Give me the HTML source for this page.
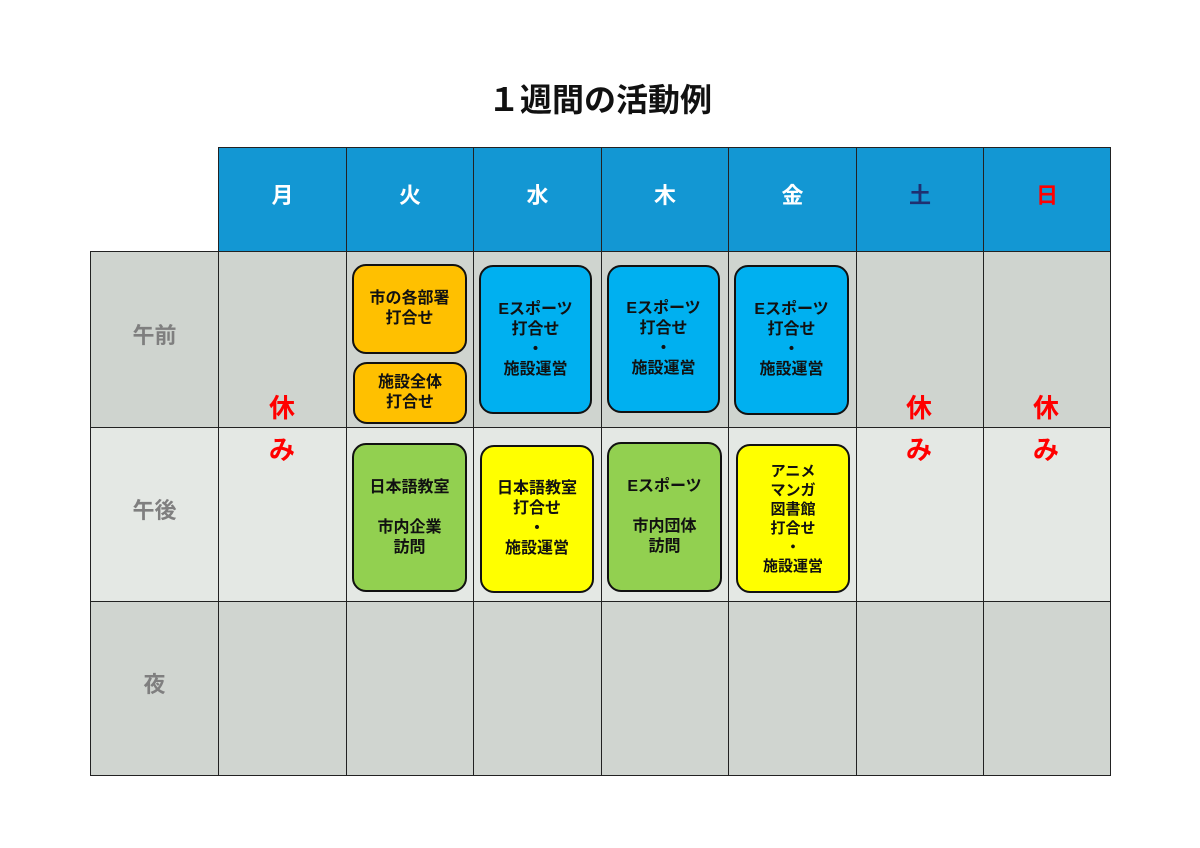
<!DOCTYPE html>
<html><head><meta charset="utf-8"><style>
body{margin:0;width:1200px;height:848px;background:#fff;position:relative;overflow:hidden;font-family:"Liberation Sans","Noto Sans CJK JP",sans-serif;font-weight:bold}
.a{position:absolute;box-sizing:border-box}
.c{display:flex;align-items:center;justify-content:center;text-align:center}
.hd{background:#1397d3;color:#fff;font-size:22px;border:1px solid #222;padding-bottom:12px}
.m{background:#cfd4cf;border:1px solid #222}
.p{background:#e4e8e4;border:1px solid #222}
.n{background:#d0d5d0;border:1px solid #222}
.lab{color:#7f7f7f;font-size:22px;padding-bottom:12px}
.b{border:2px solid #111;border-radius:14px;font-size:16px;line-height:20px;color:#111;flex-direction:column}
.r{color:#ff0000;font-size:26px;width:40px;text-align:center}
</style></head><body>
<div class="a c" style="left:0;width:1200px;top:78px;height:40px;font-size:32px;color:#111">１週間の活動例</div>

<div class="a c hd" style="left:218px;top:147px;width:129px;height:105px">月</div>
<div class="a c hd" style="left:346px;top:147px;width:128px;height:105px">火</div>
<div class="a c hd" style="left:473px;top:147px;width:129px;height:105px">水</div>
<div class="a c hd" style="left:601px;top:147px;width:128px;height:105px">木</div>
<div class="a c hd" style="left:728px;top:147px;width:129px;height:105px">金</div>
<div class="a c hd" style="left:856px;top:147px;width:128px;height:105px;color:#1f3070">土</div>
<div class="a c hd" style="left:983px;top:147px;width:128px;height:105px;color:#ff0000">日</div>

<div class="a m c lab" style="left:90px;top:251px;width:129px;height:177px">午前</div>
<div class="a p c lab" style="left:90px;top:427px;width:129px;height:175px">午後</div>
<div class="a n c lab" style="left:90px;top:601px;width:129px;height:175px">夜</div>

<div class="a m" style="left:218px;top:251px;width:129px;height:177px"></div>
<div class="a m" style="left:346px;top:251px;width:128px;height:177px"></div>
<div class="a m" style="left:473px;top:251px;width:129px;height:177px"></div>
<div class="a m" style="left:601px;top:251px;width:128px;height:177px"></div>
<div class="a m" style="left:728px;top:251px;width:129px;height:177px"></div>
<div class="a m" style="left:856px;top:251px;width:128px;height:177px"></div>
<div class="a m" style="left:983px;top:251px;width:128px;height:177px"></div>

<div class="a p" style="left:218px;top:427px;width:129px;height:175px"></div>
<div class="a p" style="left:346px;top:427px;width:128px;height:175px"></div>
<div class="a p" style="left:473px;top:427px;width:129px;height:175px"></div>
<div class="a p" style="left:601px;top:427px;width:128px;height:175px"></div>
<div class="a p" style="left:728px;top:427px;width:129px;height:175px"></div>
<div class="a p" style="left:856px;top:427px;width:128px;height:175px"></div>
<div class="a p" style="left:983px;top:427px;width:128px;height:175px"></div>

<div class="a n" style="left:218px;top:601px;width:129px;height:175px"></div>
<div class="a n" style="left:346px;top:601px;width:128px;height:175px"></div>
<div class="a n" style="left:473px;top:601px;width:129px;height:175px"></div>
<div class="a n" style="left:601px;top:601px;width:128px;height:175px"></div>
<div class="a n" style="left:728px;top:601px;width:129px;height:175px"></div>
<div class="a n" style="left:856px;top:601px;width:128px;height:175px"></div>
<div class="a n" style="left:983px;top:601px;width:128px;height:175px"></div>

<div class="a r" style="left:262px;top:388px">休</div>
<div class="a r" style="left:262px;top:430px">み</div>
<div class="a r" style="left:899px;top:388px">休</div>
<div class="a r" style="left:899px;top:430px">み</div>
<div class="a r" style="left:1026px;top:388px">休</div>
<div class="a r" style="left:1026px;top:430px">み</div>

<div class="a c b" style="left:352px;top:264px;width:115px;height:90px;background:#ffc000">市の各部署<br>打合せ</div>
<div class="a c b" style="left:353px;top:362px;width:114px;height:62px;background:#ffc000">施設全体<br>打合せ</div>
<div class="a c b" style="left:479px;top:265px;width:113px;height:149px;background:#00b0f0">Eスポーツ<br>打合せ<br>・<br>施設運営</div>
<div class="a c b" style="left:607px;top:265px;width:113px;height:148px;background:#00b0f0">Eスポーツ<br>打合せ<br>・<br>施設運営</div>
<div class="a c b" style="left:734px;top:265px;width:115px;height:150px;background:#00b0f0">Eスポーツ<br>打合せ<br>・<br>施設運営</div>

<div class="a c b" style="left:352px;top:443px;width:115px;height:149px;background:#92d050">日本語教室<br><br>市内企業<br>訪問</div>
<div class="a c b" style="left:480px;top:445px;width:114px;height:148px;background:#ffff00">日本語教室<br>打合せ<br>・<br>施設運営</div>
<div class="a c b" style="left:607px;top:442px;width:115px;height:150px;background:#92d050">Eスポーツ<br><br>市内団体<br>訪問</div>
<div class="a c b" style="left:736px;top:444px;width:114px;height:149px;background:#ffff00;font-size:15px;line-height:19px">アニメ<br>マンガ<br>図書館<br>打合せ<br>・<br>施設運営</div>
</body></html>
